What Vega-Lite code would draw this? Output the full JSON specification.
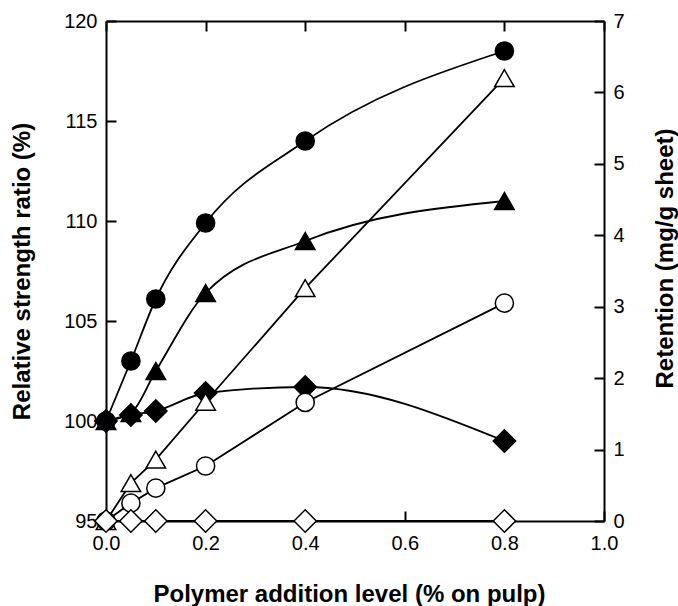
{
  "$schema": "https://vega.github.io/schema/vega-lite/v6.json",
  "width": 498,
  "height": 500,
  "autosize": {"type": "none"},
  "padding": {"left": 106, "top": 21, "right": 74, "bottom": 85},
  "background": "white",
  "config": {
    "view": {"stroke": null},
    "font": "Liberation Sans",
    "axis": {
      "domainColor": "black", "domainWidth": 2, "tickColor": "black", "tickWidth": 2,
      "tickSize": -10, "grid": false, "labelFont": "Liberation Sans", "labelFontSize": 20,
      "labelColor": "black", "titleFont": "Liberation Sans", "titleFontSize": 24,
      "titleFontWeight": "bold", "titleColor": "black", "labelFlush": false, "labelOverlap": false
    }
  },
  "data": {
    "values": [
      {"x": 0, "v": 100, "s": "fc"}, {"x": 0.05, "v": 103.0, "s": "fc"}, {"x": 0.1, "v": 106.1, "s": "fc"}, {"x": 0.2, "v": 109.9, "s": "fc"}, {"x": 0.4, "v": 114.0, "s": "fc"}, {"x": 0.8, "v": 118.5, "s": "fc"},
      {"x": 0, "v": 100, "s": "ft"}, {"x": 0.05, "v": 100.4, "s": "ft"}, {"x": 0.1, "v": 102.5, "s": "ft"}, {"x": 0.2, "v": 106.4, "s": "ft"}, {"x": 0.4, "v": 109.0, "s": "ft"}, {"x": 0.8, "v": 111.0, "s": "ft"},
      {"x": 0, "v": 100, "s": "fd"}, {"x": 0.05, "v": 100.3, "s": "fd"}, {"x": 0.1, "v": 100.5, "s": "fd"}, {"x": 0.2, "v": 101.4, "s": "fd"}, {"x": 0.4, "v": 101.7, "s": "fd"}, {"x": 0.8, "v": 99.0, "s": "fd"},
      {"x": 0, "v": 0, "s": "ot"}, {"x": 0.05, "v": 0.53, "s": "ot"}, {"x": 0.1, "v": 0.86, "s": "ot"}, {"x": 0.2, "v": 1.67, "s": "ot"}, {"x": 0.4, "v": 3.26, "s": "ot"}, {"x": 0.8, "v": 6.2, "s": "ot"},
      {"x": 0, "v": 0, "s": "oc"}, {"x": 0.05, "v": 0.25, "s": "oc"}, {"x": 0.1, "v": 0.46, "s": "oc"}, {"x": 0.2, "v": 0.77, "s": "oc"}, {"x": 0.4, "v": 1.66, "s": "oc"}, {"x": 0.8, "v": 3.05, "s": "oc"},
      {"x": 0, "v": 0, "s": "od"}, {"x": 0.05, "v": 0, "s": "od"}, {"x": 0.1, "v": 0, "s": "od"}, {"x": 0.2, "v": 0, "s": "od"}, {"x": 0.4, "v": 0, "s": "od"}, {"x": 0.8, "v": 0, "s": "od"}
    ]
  },
  "encoding": {
    "shape": {"field": "s", "type": "nominal", "legend": null, "scale": {"domain": ["fc", "ft", "fd", "oc", "ot", "od"], "range": ["circle", "triangle-up", "diamond", "circle", "triangle-up", "diamond"]}},
    "fill": {"field": "s", "type": "nominal", "legend": null, "scale": {"domain": ["fc", "ft", "fd", "oc", "ot", "od"], "range": ["black", "black", "black", "white", "white", "white"]}},
    "size": {"field": "s", "type": "nominal", "legend": null, "scale": {"type": "ordinal", "domain": ["fc", "ft", "fd", "oc", "ot", "od"], "range": [330, 380, 500, 330, 380, 500]}}
  },
  "layer": [
    {
      "transform": [{"filter": "indexof(['fc','ft','fd'], datum.s) >= 0"}],
      "encoding": {
        "x": {"field": "x", "type": "quantitative", "scale": {"domain": [0, 1], "nice": false},
          "axis": {"orient": "bottom", "values": [0, 0.2, 0.4, 0.6, 0.8, 1.0], "format": ".1f", "labelPadding": 22,
            "title": "Polymer addition level (% on pulp)", "titleY": 80, "titleX": 243, "titleBaseline": "alphabetic", "titleAlign": "center"}},
        "y": {"field": "v", "type": "quantitative", "scale": {"domain": [95, 120], "nice": false, "zero": false},
          "axis": {"orient": "left", "values": [95, 100, 105, 110, 115, 120], "labelPadding": 19,
            "title": "Relative strength ratio (%)", "titleAngle": -90, "titleX": -84, "titleY": 250, "titleBaseline": "middle", "titleAlign": "center"}}
      },
      "layer": [
        {"mark": {"type": "line", "interpolate": "monotone", "color": "black", "strokeWidth": 1.8}, "encoding": {"detail": {"field": "s"}, "shape": null, "fill": null, "size": null}},
        {"mark": {"type": "point", "filled": true, "stroke": "black", "strokeWidth": 1.5, "opacity": 1}}
      ]
    },
    {
      "transform": [{"filter": "indexof(['oc','ot','od'], datum.s) >= 0"}],
      "encoding": {
        "x": {"field": "x", "type": "quantitative", "scale": {"domain": [0, 1], "nice": false},
          "axis": {"orient": "top", "values": [0, 0.2, 0.4, 0.6, 0.8, 1.0], "labels": false, "title": null}},
        "y": {"field": "v", "type": "quantitative", "scale": {"domain": [0, 7], "nice": false},
          "axis": {"orient": "right", "values": [0, 1, 2, 3, 4, 5, 6, 7], "labelPadding": 19,
            "title": "Retention (mg/g sheet)", "titleAngle": -90, "titleX": 61, "titleY": 237, "titleBaseline": "middle", "titleAlign": "center"}}
      },
      "layer": [
        {"mark": {"type": "line", "interpolate": "linear", "color": "black", "strokeWidth": 1.8}, "encoding": {"detail": {"field": "s"}, "shape": null, "fill": null, "size": null}},
        {"mark": {"type": "point", "filled": true, "stroke": "black", "strokeWidth": 1.5, "opacity": 1}}
      ]
    }
  ],
  "resolve": {"scale": {"y": "independent"}, "axis": {"x": "independent"}}
}
